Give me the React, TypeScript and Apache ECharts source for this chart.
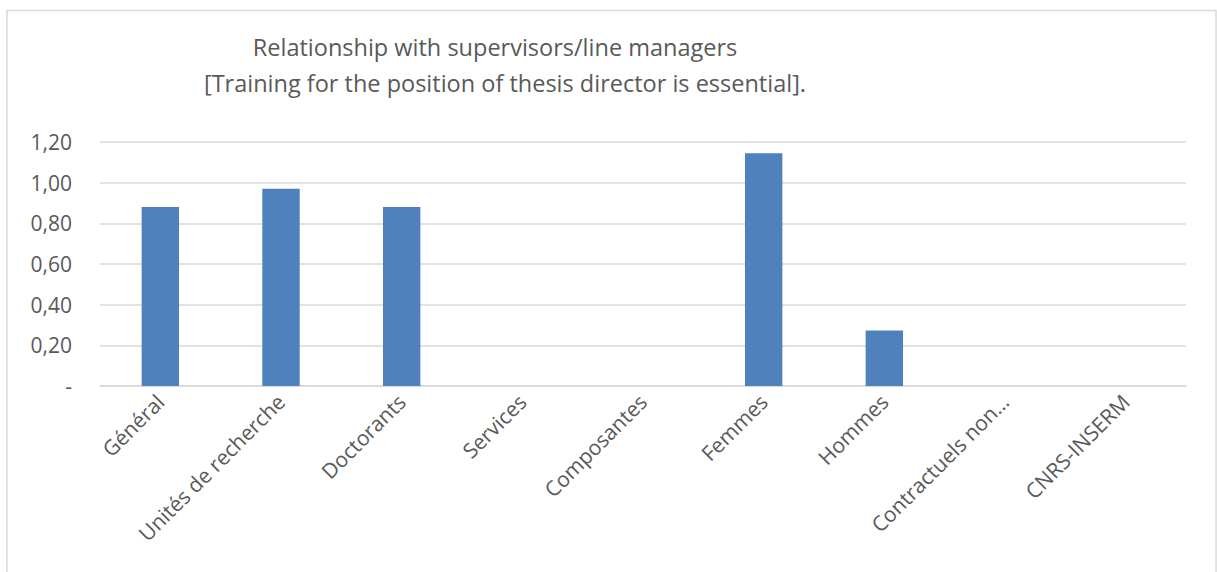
import React, { useEffect, useRef } from "react";
import * as echarts from "echarts";

const categories = [
  "Général",
  "Unités de recherche",
  "Doctorants",
  "Services",
  "Composantes",
  "Femmes",
  "Hommes",
  "Contractuels non…",
  "CNRS-INSERM",
];
const values = [0.88, 0.97, 0.88, 0, 0, 1.145, 0.273, 0, 0];
const titleLines = [
  "Relationship with supervisors/line managers",
  "[Training for the position of thesis director is essential].",
];
const yTicks = [0, 0.2, 0.4, 0.6, 0.8, 1.0, 1.2];

const FONT = "'Open Sans', sans-serif";

export default function App() {
  const ref = useRef<HTMLDivElement>(null);
  useEffect(() => {
    if (!ref.current) return;
    const chart = echarts.init(ref.current, null, { renderer: "svg" });
    chart.setOption({
      animation: false,
      backgroundColor: "#ffffff",
      graphic: [
        {
          type: "rect",
          shape: { x: 7, y: 10.5, width: 1209, height: 600 },
          style: { fill: "none", stroke: "#d9d9d9", lineWidth: 1.5 },
          silent: true,
        },
        {
          type: "text",
          x: 495,
          y: 47,
          style: {
            text: titleLines[0],
            font: `23.5px ${FONT}`,
            fill: "#595959",
            textAlign: "center",
            textVerticalAlign: "middle",
          },
        },
        {
          type: "text",
          x: 505,
          y: 83,
          style: {
            text: titleLines[1],
            font: `23.5px ${FONT}`,
            fill: "#595959",
            textAlign: "center",
            textVerticalAlign: "middle",
          },
        },
      ],
      grid: { left: 100, right: 31, top: 142, bottom: 186, containLabel: false },
      xAxis: {
        type: "category",
        data: categories,
        axisLine: { show: true, lineStyle: { color: "#d9d9d9", width: 1.5 } },
        axisTick: { show: false },
        axisLabel: {
          rotate: 45,
          interval: 0,
          color: "#595959",
          fontFamily: FONT,
          fontSize: 21,
          margin: 12,
        },
      },
      yAxis: {
        type: "value",
        min: 0,
        max: 1.2,
        interval: 0.2,
        axisLine: { show: false },
        axisTick: { show: false },
        splitLine: { lineStyle: { color: "#d9d9d9", width: 1.5 } },
        axisLabel: {
          color: "#595959",
          fontFamily: FONT,
          fontSize: 21,
          margin: 28,
          formatter: (v: number) => {
            if (Math.abs(v) < 1e-9) return "-";
            const t = yTicks.find((x) => Math.abs(x - v) < 1e-9);
            return (t ?? v).toFixed(2).replace(".", ",");
          },
        },
      },
      series: [
        {
          type: "bar",
          data: values,
          barWidth: "31%",
          itemStyle: { color: "#4f81bd", borderWidth: 0 },
        },
      ],
    });
    return () => chart.dispose();
  }, []);
  return (
    <div
      ref={ref}
      style={{ position: "fixed", left: 0, top: 0, width: 1217, height: 572 }}
    />
  );
}
